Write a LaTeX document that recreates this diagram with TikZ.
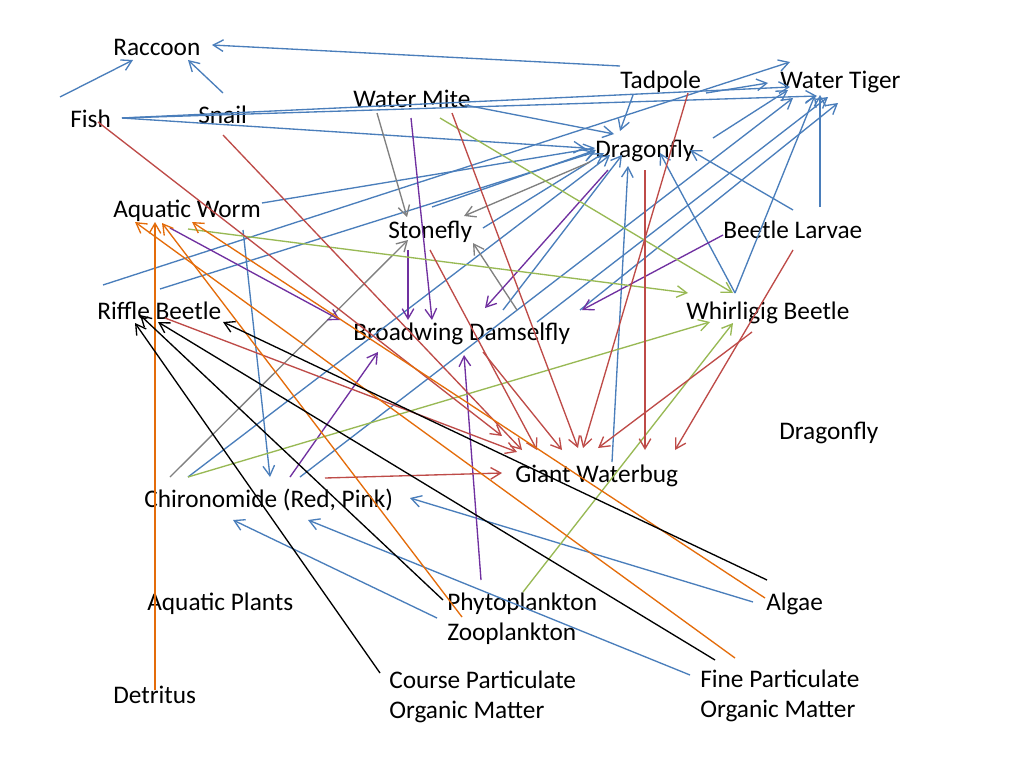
\documentclass[tikz,border=0pt]{standalone}
\usepackage{fontspec}
\setmainfont{Carlito}
\usetikzlibrary{arrows.meta}
\definecolor{cbl}{HTML}{4A7EBB}
\definecolor{crd}{HTML}{BE4B48}
\definecolor{cgr}{HTML}{98B954}
\definecolor{cpu}{HTML}{7030A0}
\definecolor{cor}{HTML}{E46C0A}
\definecolor{cgy}{HTML}{808080}
\begin{document}
\begin{tikzpicture}[x=0.25mm,y=-0.25mm,
  lbl/.style={anchor=base west,inner sep=0pt,font=\fontsize{18}{21}\selectfont},
  con/.style={line width=0.95pt,-{Straight Barb[length=2.5mm,width=2.9mm]}},
  bl/.style={con,draw=cbl},
  rd/.style={con,draw=crd},
  gr/.style={con,draw=cgr},
  pu/.style={con,draw=cpu},
  og/.style={con,draw=cor},
  gy/.style={con,draw=cgy},
  bk/.style={con,draw=black}]
\fill[white] (0,0) rectangle (1024,768);
\useasboundingbox (0,0) rectangle (1024,768);
% labels
\node[lbl] (raccoon) at (113,55) {Raccoon};
\node[lbl] (fish) at (70,127) {Fish};
\node[lbl] (snail) at (198,123) {Snail};
\node[lbl] (mite) at (353,107) {Water Mite};
\node[lbl] (tadpole) at (620,88) {Tadpole};
\node[lbl] (tiger) at (780,88) {Water Tiger};
\node[lbl] (dragon) at (595,157) {Dragonfly};
\node[lbl] (worm) at (113,217) {Aquatic Worm};
\node[lbl] (stone) at (388,238) {Stonefly};
\node[lbl] (larvae) at (723,238) {Beetle Larvae};
\node[lbl] (riffle) at (97,319) {Riffle Beetle};
\node[lbl] (damsel) at (353,340) {Broadwing Damselfly};
\node[lbl] (whirl) at (686,319) {Whirligig Beetle};
\node[lbl] (dragontwo) at (779,439) {Dragonfly};
\node[lbl] (bug) at (515,482) {Giant Waterbug};
\node[lbl] (chiro) at (144,507) {Chironomide (Red, Pink)};
\node[lbl] (plants) at (147,610) {Aquatic Plants};
\node[lbl] (phyto) at (447,610) {Phytoplankton};
\node[lbl] (zoo) at (447,640) {Zooplankton};
\node[lbl] (algae) at (766,610) {Algae};
\node[lbl] (detritus) at (113,703) {Detritus};
\node[lbl] (cpomA) at (389,688) {Course Particulate};
\node[lbl] (cpomB) at (389,718) {Organic Matter};
\node[lbl] (fpomA) at (700,687) {Fine Particulate};
\node[lbl] (fpomB) at (700,717) {Organic Matter};
% blue
\draw[bl] (620,66)--(212,45);
\draw[bl] (60,97)--(133,60);
\draw[bl] (223,93)--(188,60);
\draw[bl] (122,118)--(790,87);
\draw[bl] (122,118)--(817,96);
\draw[bl] (122,118)--(585,148);
\draw[bl] (465,105)--(614,134);
\draw[bl] (633,95)--(620,131);
\draw[bl] (706,93)--(768,83);
\draw[bl] (713,138)--(788,90);
\draw[bl] (103,285)--(790,62);
\draw[bl] (262,203)--(595,148);
\draw[bl] (160,289)--(595,152);
\draw[bl] (432,207)--(596,150);
\draw[bl] (483,228)--(604,153);
\draw[bl] (243,230)--(270,477);
\draw[bl] (188,477)--(610,155);
\draw[bl] (300,477)--(793,98);
\draw[bl] (503,310)--(622,155);
\draw[bl] (537,322)--(828,97);
\draw[bl] (580,310)--(838,103);
\draw[bl] (612,462)--(628,166);
\draw[bl] (735,293)--(660,153);
\draw[bl] (735,293)--(815,95);
\draw[bl] (793,210)--(690,150);
\draw[bl] (820,207)--(820,95);
\draw[bl] (437,618)--(233,520);
\draw[bl] (690,675)--(308,520);
\draw[bl] (753,602)--(410,498);
% gray
\draw[gy] (377,113)--(407,217);
\draw[gy] (590,162)--(464,216);
\draw[gy] (517,310)--(473,243);
\draw[gy] (170,477)--(408,240);
% purple
\draw[pu] (411,118)--(432,320);
\draw[pu] (408,250)--(408,320);
\draw[pu] (170,228)--(340,320);
\draw[pu] (608,170)--(485,308);
\draw[pu] (723,235)--(582,310);
\draw[pu] (290,477)--(378,352);
\draw[pu] (481,580)--(464,355);
% green
\draw[gr] (440,118)--(733,293);
\draw[gr] (188,229)--(688,293);
\draw[gr] (188,477)--(710,322);
\draw[gr] (523,592)--(733,323);
% red
\draw[rd] (98,122)--(502,436);
\draw[rd] (165,318)--(517,452);
\draw[rd] (223,135)--(522,450);
\draw[rd] (430,250)--(537,450);
\draw[rd] (483,352)--(562,450);
\draw[rd] (452,113)--(578,448);
\draw[rd] (688,93)--(583,448);
\draw[rd] (752,332)--(598,448);
\draw[rd] (645,170)--(645,450);
\draw[rd] (793,250)--(675,450);
\draw[rd] (325,478)--(502,473);
% orange
\draw[og] (155,690)--(155,222);
\draw[og] (462,617)--(162,223);
\draw[og] (735,658)--(135,222);
\draw[og] (765,598)--(192,222);
% black
\draw[bk] (380,673)--(135,323);
\draw[bk] (443,600)--(140,315);
\draw[bk] (715,660)--(158,322);
\draw[bk] (767,580)--(223,322);
\end{tikzpicture}
\end{document}
